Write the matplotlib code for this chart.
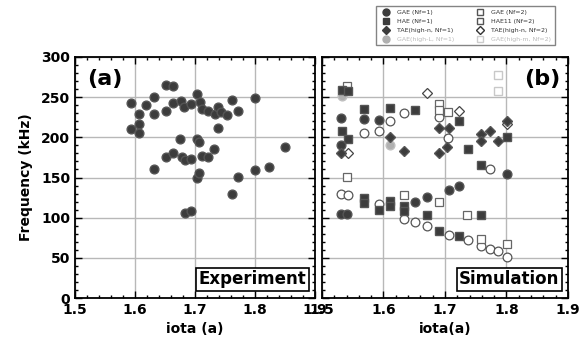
import numpy as np
from matplotlib import pyplot as plt
from matplotlib.ticker import MultipleLocator

# panel (a): experiment
exp_iota = [1.593, 1.593, 1.607, 1.607, 1.607, 1.619, 1.631, 1.631, 1.631, 1.651,
            1.664, 1.651, 1.651, 1.664, 1.664, 1.676, 1.681, 1.675, 1.679, 1.683,
            1.683, 1.694, 1.694, 1.694, 1.703, 1.708, 1.703, 1.707, 1.703, 1.707,
            1.712, 1.712, 1.722, 1.722, 1.731, 1.733, 1.739, 1.739, 1.744, 1.753,
            1.761, 1.771, 1.761, 1.771, 1.800, 1.800, 1.823, 1.850]
exp_freq = [243, 210, 229, 217, 205, 240, 250, 229, 161, 265,
            264, 233, 176, 181, 243, 245, 238, 198, 176, 172,
            106, 108, 173, 242, 254, 244, 198, 194, 150, 155,
            177, 235, 233, 176, 185, 229, 238, 212, 232, 228,
            246, 233, 130, 151, 249, 159, 163, 188]

# panel (b): simulation
gae1_iota = [1.531, 1.568, 1.592, 1.531, 1.531, 1.541, 1.651, 1.670, 1.707, 1.723, 1.800]
gae1_freq = [224, 223, 221, 190, 104, 105, 120, 126, 134, 140, 154]

hae1_iota = [1.532, 1.542, 1.568, 1.611, 1.651, 1.723, 1.532, 1.542, 1.738, 1.758,
             1.800, 1.568, 1.568, 1.592, 1.611, 1.611, 1.634, 1.634, 1.670, 1.690,
             1.723, 1.758]
hae1_freq = [259, 258, 235, 237, 234, 220, 208, 198, 185, 166,
             201, 125, 118, 109, 121, 114, 114, 108, 103, 83,
             77, 103]

tae1_iota = [1.531, 1.611, 1.634, 1.691, 1.691, 1.707, 1.704, 1.758, 1.758, 1.773,
             1.786, 1.800]
tae1_freq = [181, 200, 183, 181, 211, 211, 188, 204, 196, 208,
             196, 220]

gae2_iota = [1.568, 1.592, 1.611, 1.634, 1.691, 1.705, 1.773, 1.531, 1.542, 1.592,
             1.634, 1.651, 1.670, 1.707, 1.738, 1.758, 1.773, 1.786, 1.800]
gae2_freq = [206, 208, 220, 230, 225, 199, 160, 130, 128, 117,
             98, 95, 90, 79, 72, 65, 61, 59, 51]

hae11_iota = [1.541, 1.691, 1.705, 1.691, 1.541, 1.634, 1.691, 1.735, 1.800, 1.758]
hae11_freq = [264, 242, 231, 234, 151, 128, 119, 103, 67, 73]

tae2_iota = [1.671, 1.723, 1.542, 1.800]
tae2_freq = [255, 233, 181, 216]

gaeL1_iota = [1.611, 1.532]
gaeL1_freq = [190, 252]

gaem2_iota = [1.786, 1.786]
gaem2_freq = [258, 278]

dark = '#3c3c3c'
fig = plt.figure(figsize=(5.85, 3.43), dpi=100)
ax1 = fig.add_axes([75 / 585, 45 / 343, 240 / 585, 241 / 343])
ax2 = fig.add_axes([322 / 585, 45 / 343, 246 / 585, 241 / 343])

ms = 6.3
ax1.plot(exp_iota, exp_freq, 'o', ms=ms, color=dark, mec='#555555', zorder=3)

ax2.plot(gaeL1_iota, gaeL1_freq, 'o', ms=ms, color='#b0b0b0', mec='#c0c0c0', zorder=3)
ax2.plot(gaem2_iota, gaem2_freq, 's', ms=ms, mfc='white', mec='#c8c8c8', zorder=3)
ax2.plot(gae2_iota, gae2_freq, 'o', ms=ms, mfc='white', mec='#555555', mew=0.9, zorder=3)
ax2.plot(hae11_iota, hae11_freq, 's', ms=ms, mfc='white', mec='#666666', mew=0.9, zorder=3)
ax2.plot(tae2_iota, tae2_freq, 'D', ms=5, mfc='white', mec='#444444', mew=0.9, zorder=3)
ax2.plot(hae1_iota, hae1_freq, 's', ms=ms, color=dark, mec='#555555', zorder=4)
ax2.plot(gae1_iota, gae1_freq, 'o', ms=ms, color=dark, mec='#555555', zorder=4)
ax2.plot(tae1_iota, tae1_freq, 'D', ms=5, color=dark, mec='#555555', zorder=4)

for ax in (ax1, ax2):
    ax.set_xlim(1.5, 1.9)
    ax.set_ylim(0, 300)
    ax.xaxis.set_major_locator(MultipleLocator(0.1))
    ax.xaxis.set_minor_locator(MultipleLocator(0.02))
    ax.yaxis.set_major_locator(MultipleLocator(50))
    ax.yaxis.set_minor_locator(MultipleLocator(10))
    ax.tick_params(which='both', direction='in', top=True, right=True, width=1)
    ax.tick_params(which='major', length=5, labelsize=10)
    ax.tick_params(which='minor', length=2.5)
    ax.grid(True, which='major', color='#b8b8b8', lw=1)
    for s in ax.spines.values():
        s.set_linewidth(1.3)
    for lab in ax.get_xticklabels() + ax.get_yticklabels():
        lab.set_fontweight('bold')

ax2.set_yticklabels([])
ax1.set_xlabel('iota (a)', fontsize=10, fontweight='bold', labelpad=4)
ax2.set_xlabel('iota(a)', fontsize=10, fontweight='bold', labelpad=4)
ax1.set_ylabel('Frequency (kHz)', fontsize=10, fontweight='bold', labelpad=6)

box = dict(boxstyle='square,pad=0.15', fc='white', ec='black', lw=1.2)
ax1.text(0.05, 0.95, '(a)', transform=ax1.transAxes, fontsize=16, fontweight='bold',
         va='top', ha='left')
ax2.text(0.97, 0.95, '(b)', transform=ax2.transAxes, fontsize=16, fontweight='bold',
         va='top', ha='right')
ax1.text(0.965, 0.04, 'Experiment', transform=ax1.transAxes, fontsize=12,
         fontweight='bold', ha='right', va='bottom', bbox=box, zorder=6)
ax2.text(0.965, 0.04, 'Simulation', transform=ax2.transAxes, fontsize=12,
         fontweight='bold', ha='right', va='bottom', bbox=box, zorder=6)

# legend above panel (b)
h = [
    plt.Line2D([], [], ls='', marker='o', ms=5, color=dark),
    plt.Line2D([], [], ls='', marker='s', ms=5, color=dark),
    plt.Line2D([], [], ls='', marker='D', ms=4, color=dark),
    plt.Line2D([], [], ls='', marker='o', ms=5, color='#b0b0b0'),
    plt.Line2D([], [], ls='', marker='s', ms=5, mfc='white', mec='#555555'),
    plt.Line2D([], [], ls='', marker='s', ms=5, mfc='white', mec='#555555'),
    plt.Line2D([], [], ls='', marker='D', ms=4, mfc='white', mec='#333333'),
    plt.Line2D([], [], ls='', marker='s', ms=5, mfc='white', mec='#cccccc'),
]
labels = ['GAE (Nf=1)', 'HAE (Nf=1)', 'TAE(high-n, Nf=1)', 'GAE(high-L, Nf=1)',
          'GAE (Nf=2)', 'HAE11 (Nf=2)', 'TAE(high-n, Nf=2)', 'GAE(high-m, Nf=2)']
leg = fig.legend(h, labels, ncol=2, fontsize=4.5, loc='upper left',
                 bbox_to_anchor=(373 / 585, 1 - 3 / 343), frameon=True,
                 fancybox=False, edgecolor='#666666', handletextpad=0.8,
                 columnspacing=3.0, labelspacing=0.55, borderpad=0.6)
for i, t in enumerate(leg.get_texts()):
    t.set_color('#bbbbbb' if i in (3, 7) else '#333333')

fig.savefig('out.png', dpi=100)
